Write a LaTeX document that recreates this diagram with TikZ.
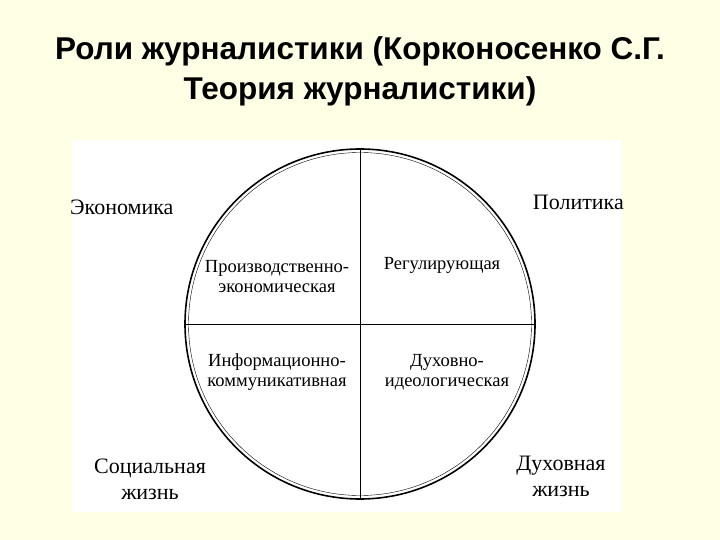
\documentclass[tikz,border=0pt]{standalone}
\usepackage{fontspec}
\setmainfont{Liberation Serif}
\newfontfamily\titlefont{Liberation Sans}
\usetikzlibrary{positioning}
\definecolor{slide}{RGB}{255,255,229}

\begin{document}
\begin{tikzpicture}[x=1pt, y=-1pt,
            role/.style={align=center, font=\fontsize{18.5}{20}\selectfont, inner sep=0},
            sphere/.style={align=center, font=\fontsize{22}{26}\selectfont, inner sep=0}]
        \useasboundingbox (0,0) rectangle (720,540);
        \fill [slide] (0,0) rectangle (720,540);
        \fill [white] (72,140) rectangle (622,512);

        \node (title) [align=center, font=\titlefont\bfseries\fontsize{31.5}{40}\selectfont]
            at (360,71) {Роли журналистики (Корконосенко С.Г.\\Теория журналистики)};

        \node (circ) [circle, draw, line width=1.6pt, minimum size=350pt, inner sep=0] at (360,324) {};
        \node (ring) [circle, draw, thin, minimum size=343pt, inner sep=0] at (circ.center) {};
        \draw (circ.north) -- (circ.south);
        \draw [semithick] (circ.west) -- (circ.east);

        \node (prod) [role] at (277,277) {Производственно-\\экономическая};
        \node (reg)  [role] at (442,265) {Регулирующая};
        \node (info) [role] at (277,372) {Информационно-\\коммуникативная};
        \node (dukh) [role] at (447,372) {Духовно-\\идеологическая};

        \node (econ) [sphere, anchor=west] at (70,207) {Экономика};
        \node (pol)  [sphere, anchor=east] at (624,202) {Политика};
        \node (soc)  [sphere] at (150,479) {Социальная\\жизнь};
        \node (spir) [sphere] at (561,476) {Духовная\\жизнь};
    \end{tikzpicture}
\end{document}
